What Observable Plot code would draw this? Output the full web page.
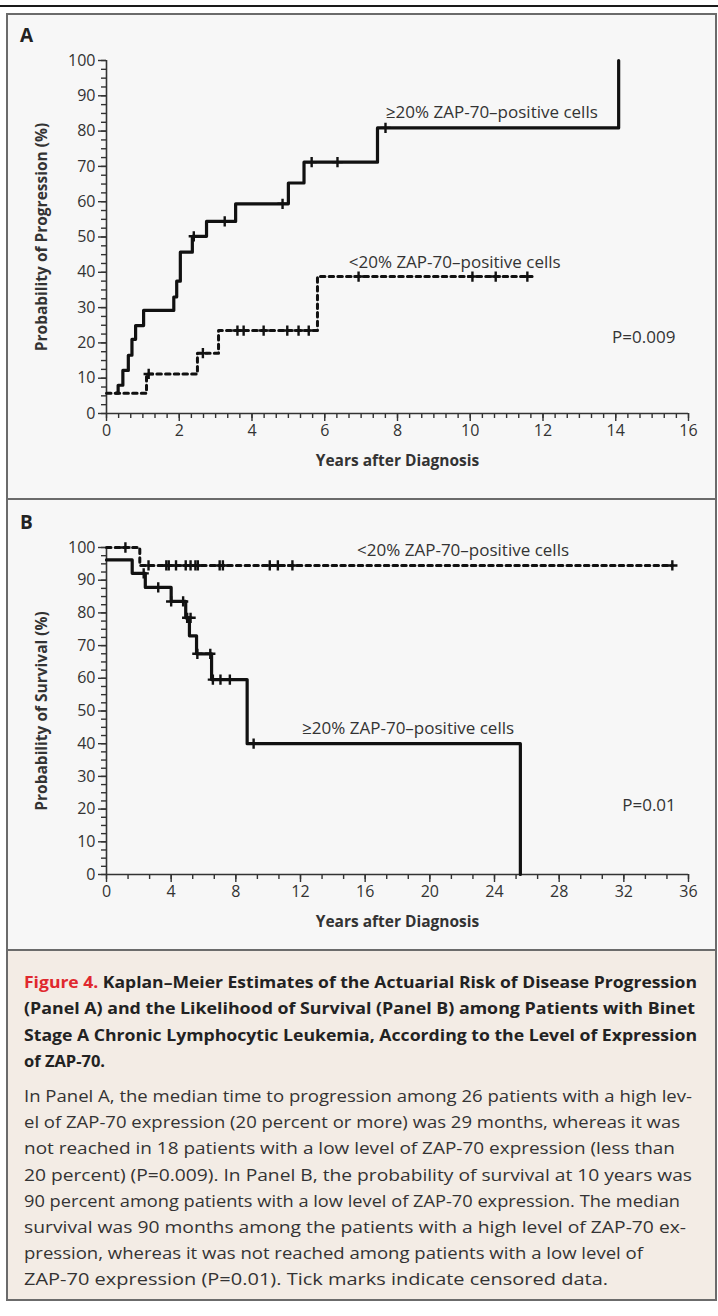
<!DOCTYPE html>
<html>
<head>
<meta charset="utf-8">
<script src="https://cdn.jsdelivr.net/npm/d3@7"></script>
<script src="https://cdn.jsdelivr.net/npm/@observablehq/plot@0.6"></script>
<style>
  html, body { margin: 0; padding: 0; background: #ffffff; }
  body { width: 718px; height: 1316px; position: relative; overflow: hidden; font-family: "Open Sans", sans-serif; }
  .rule { position: absolute; left: 0; top: 5px; width: 718px; height: 2px; background: #1a1a1a; }
  .box { position: absolute; left: 6px; width: 711px; box-sizing: border-box; border: 2px solid #6b6b6b; background: #f7f7f7; }
  .cap { background: #f3ece5; }
  .panel { position: absolute; left: 0; }
  .letter { position: absolute; left: 20px; font-weight: bold; font-size: 19px; color: #222; line-height: 1; }
  #caption { position: absolute; left: 0; top: 949px; }
  .panel svg g[aria-label$="tick label"] { font-size: 16px; font-family: "Open Sans", sans-serif; }
</style>
</head>
<body>
<div class="rule"></div>
<div class="box" style="top:13px;height:487px;"></div>
<div class="box" style="top:498px;height:453px;"></div>
<div class="box cap" style="top:949px;height:352px;"></div>
<div class="letter" style="top:26px;">A</div>
<div class="letter" style="top:513px;">B</div>
<div class="panel" id="panelA" style="top:14px;"></div>
<div class="panel" id="panelB" style="top:499px;"></div>
<svg id="caption" width="718" height="360"></svg>
<script>
// ---------- Data: Panel A (Probability of progression, %) ----------
const progHighYears = [0.27, 0.32, 0.45, 0.6, 0.7, 0.8, 1.02, 1.85, 1.93, 2.03, 2.36, 2.75, 3.55, 5.0, 5.43, 7.45, 14.08];
const progHighPct   = [5.75, 8.0, 12.2, 16.5, 21.0, 24.9, 29.2, 33.0, 37.5, 45.7, 50.2, 54.4, 59.4, 65.3, 71.2, 80.9, 100];
const progHighCensYears = [2.4, 3.25, 4.84, 5.64, 6.35, 7.67];
const progHighCensPct   = [50.2, 54.4, 59.4, 71.2, 71.2, 80.9];

const progLowYears = [0, 1.1, 2.5, 3.08, 5.8, 11.7];
const progLowPct   = [5.75, 11.2, 17.1, 23.5, 38.8, 38.8];
const progLowCensYears = [1.16, 2.65, 3.6, 3.77, 4.32, 4.97, 5.28, 5.56, 6.93, 10.06, 10.7, 11.57];
const progLowCensPct   = [11.2, 17.1, 23.5, 23.5, 23.5, 23.5, 23.5, 23.5, 38.8, 38.8, 38.8, 38.8];

// ---------- Data: Panel B (Probability of survival, %) ----------
const survHighYears = [0, 1.59, 2.4, 4.0, 4.9, 5.13, 5.57, 6.5, 8.7, 25.6];
const survHighPct   = [96.2, 92.1, 87.8, 83.5, 78.5, 73.0, 67.5, 59.6, 40.0, 0];
const survHighCensYears = [2.3, 3.2, 4.0, 4.74, 4.99, 5.2, 5.62, 6.42, 6.58, 7.05, 7.63, 9.1];
const survHighCensPct   = [92.1, 87.8, 83.5, 83.5, 78.5, 78.5, 67.5, 67.5, 59.6, 59.6, 59.6, 40.0];

const survLowYears = [0, 2.06, 35.0];
const survLowPct   = [100, 94.5, 94.5];
const survLowCensYears = [1.17, 2.6, 3.7, 3.85, 4.3, 4.9, 5.2, 5.5, 5.65, 7.0, 7.2, 10.1, 10.6, 11.5, 35.0];
const survLowCensPct   = [100, 94.5, 94.5, 94.5, 94.5, 94.5, 94.5, 94.5, 94.5, 94.5, 94.5, 94.5, 94.5, 94.5, 94.5];

// ---------- Tick labels ----------
const xTicksA = [0, 2, 4, 6, 8, 10, 12, 14, 16];
const xTicksB = [0, 4, 8, 12, 16, 20, 24, 28, 32, 36];
const yTicks  = [0, 10, 20, 30, 40, 50, 60, 70, 80, 90, 100];

// ---------- Texts ----------
const labelHigh = "≥20% ZAP-70–positive cells";
const labelLow  = "<20% ZAP-70–positive cells";
const xTitle = "Years after Diagnosis";
const yTitleA = "Probability of Progression (%)";
const yTitleB = "Probability of Survival (%)";
const pA = "P=0.009";
const pB = "P=0.01";

const zip = (xs, ys) => xs.map((t, i) => ({t, p: ys[i]}));

const ink = "#111";
const textCol = "#333";
const minorY = d3.range(0, 100.01, 2.5);

function panel(opts) {
  const {xMax, xTicks, xMinorStep, height, marginTop, marginBottom, high, low, highC, lowC, yTitle, texts} = opts;
  const minorX = d3.range(0, xMax + 1e-6, xMinorStep);
  return Plot.plot({
    width: 718,
    height,
    marginLeft: 106,
    marginRight: 30,
    marginTop,
    marginBottom,
    style: {background: "transparent", fontFamily: "'Open Sans', sans-serif", fontSize: "16px", color: textCol, overflow: "visible"},
    x: {domain: [0, xMax]},
    y: {domain: [0, 100]},
    marks: [
      Plot.axisX({ticks: minorX, tickSize: 5, strokeWidth: 1.4, tickFormat: () => "", label: null}),
      Plot.axisX({ticks: xTicks, tickSize: 8, strokeWidth: 1.4, tickPadding: 3, fontSize: 16, label: null, tickFormat: d => String(d)}),
      Plot.axisY({ticks: minorY, tickSize: 5, strokeWidth: 1.4, tickFormat: () => "", label: null}),
      Plot.axisY({ticks: yTicks, tickSize: 8, strokeWidth: 1.4, tickPadding: 3, fontSize: 16, label: null, tickFormat: d => String(d)}),
      Plot.ruleY([0], {stroke: "#333", strokeWidth: 1.6}),
      Plot.ruleX([0], {stroke: "#333", strokeWidth: 1.6}),
      Plot.line(low, {x: "t", y: "p", curve: "step-after", stroke: ink, strokeWidth: 3, strokeDasharray: "4.5,4.2"}),
      Plot.line(high, {x: "t", y: "p", curve: "step-after", stroke: ink, strokeWidth: 3.2}),
      Plot.dot(highC, {x: "t", y: "p", symbol: "plus", r: 3.4, stroke: ink, strokeWidth: 2.4}),
      Plot.dot(lowC, {x: "t", y: "p", symbol: "plus", r: 3.4, stroke: ink, strokeWidth: 2.4}),
      ...texts.map(d => Plot.text([d.text], {x: d.x, y: d.y, text: v => v, textAnchor: "start", fontSize: 17, fill: textCol})),
      Plot.text([xTitle], {frameAnchor: "bottom", dy: 52, text: v => v, textAnchor: "middle", fontWeight: "bold", fontSize: 15.5, fill: textCol}),
      Plot.text([yTitle], {frameAnchor: "left", dx: -64, rotate: -90, text: v => v, textAnchor: "middle", lineAnchor: "middle", fontWeight: "bold", fontSize: 15.5, fill: textCol})
    ]
  });
}

document.getElementById("panelA").append(panel({
  xMax: 16, xTicks: xTicksA, xMinorStep: 1/3,
  height: 485, marginTop: 46, marginBottom: 86,
  high: zip(progHighYears, progHighPct), low: zip(progLowYears, progLowPct),
  highC: zip(progHighCensYears, progHighCensPct), lowC: zip(progLowCensYears, progLowCensPct),
  yTitle: yTitleA,
  texts: [
    {text: labelHigh, x: () => 7.68, y: () => 85.3},
    {text: labelLow, x: () => 6.66, y: () => 42.9},
    {text: pA, x: () => 13.9, y: () => 21.5}
  ]
}));

document.getElementById("panelB").append(panel({
  xMax: 36, xTicks: xTicksB, xMinorStep: 4/3,
  height: 451, marginTop: 48, marginBottom: 76,
  high: zip(survHighYears, survHighPct), low: zip(survLowYears, survLowPct),
  highC: zip(survHighCensYears, survHighCensPct), lowC: zip(survLowCensYears, survLowCensPct),
  yTitle: yTitleB,
  texts: [
    {text: labelLow, x: () => 15.5, y: () => 99.1},
    {text: labelHigh, x: () => 12.1, y: () => 44.5},
    {text: pB, x: () => 31.9, y: () => 21.1}
  ]
}));

// ---------- Caption ----------
const titleLines = [
  ["Figure 4.", " Kaplan–Meier Estimates of the Actuarial Risk of Disease Progression", 673],
  ["", "(Panel A) and the Likelihood of Survival (Panel B) among Patients with Binet", 671],
  ["", "Stage A Chronic Lymphocytic Leukemia, According to the Level of Expression", 673],
  ["", "of ZAP-70.", null]
];
const bodyLines = [
  ["In Panel A, the median time to progression among 26 patients with a high lev-", 668],
  ["el of ZAP-70 expression (20 percent or more) was 29 months, whereas it was", 656],
  ["not reached in 18 patients with a low level of ZAP-70 expression (less than", 651],
  ["20 percent) (P=0.009). In Panel B, the probability of survival at 10 years was", 668],
  ["90 percent among patients with a low level of ZAP-70 expression. The median", 656],
  ["survival was 90 months among the patients with a high level of ZAP-70 ex-", 662],
  ["pression, whereas it was not reached among patients with a low level of", 619],
  ["ZAP-70 expression (P=0.01). Tick marks indicate censored data.", 584]
];
const cap = d3.select("#caption");
titleLines.forEach((l, i) => {
  const t = cap.append("text")
    .attr("x", 24).attr("y", 39 + i * 26.3)
    .attr("font-family", "'Open Sans', sans-serif")
    .attr("font-weight", "bold").attr("font-size", 16.5).attr("fill", "#222");
  if (l[2]) t.attr("textLength", l[2]).attr("lengthAdjust", "spacingAndGlyphs");
  if (l[0]) t.append("tspan").attr("fill", "#e0282e").text(l[0]);
  t.append("tspan").text(l[1]);
});
bodyLines.forEach((l, i) => {
  cap.append("text")
    .attr("x", 24).attr("y", 153 + i * 26.2)
    .attr("font-family", "'Open Sans', sans-serif")
    .attr("font-size", 15.5).attr("fill", "#333")
    .attr("textLength", l[1]).attr("lengthAdjust", "spacingAndGlyphs")
    .text(l[0]);
});
</script>
</body>
</html>
